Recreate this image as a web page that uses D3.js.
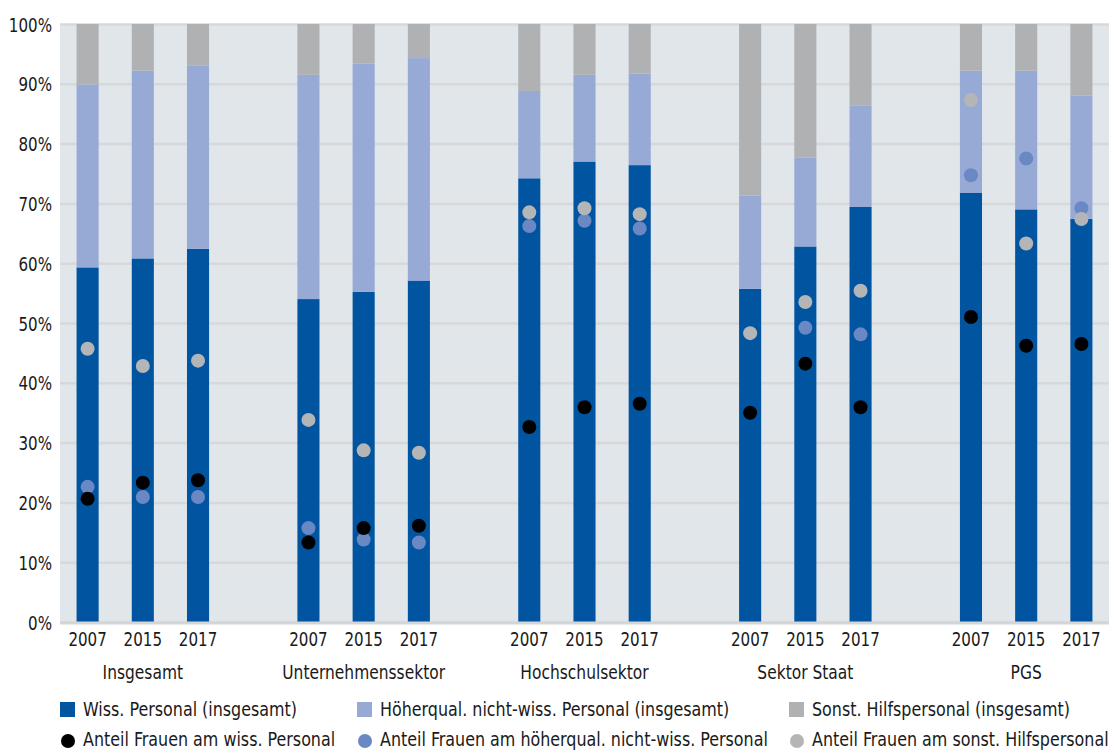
<!DOCTYPE html>
<html>
<head>
<meta charset="utf-8">
<script src="https://cdn.jsdelivr.net/npm/d3@7"></script>
<style>
  body { margin: 0; background: #fff; }
  text { font-family: "Liberation Sans Narrow", "DejaVu Sans Condensed", sans-serif; fill: #1a1a1a; }
</style>
</head>
<body>
<div id="chart"></div>
<script>
const groups = ['Insgesamt', 'Unternehmenssektor', 'Hochschulsektor', 'Sektor Staat', 'PGS'];
const years = ['2007', '2015', '2017'];
const yTicks = [0, 10, 20, 30, 40, 50, 60, 70, 80, 90, 100];

// stacked bars, per group then year (in %)
const wissPersonal   = [59.3, 60.8, 62.4,  54.0, 55.2, 57.1,  74.2, 77.0, 76.4,  55.7, 62.8, 69.4,  71.8, 69.0, 67.4];
const hoeherPersonal = [30.6, 31.4, 30.7,  37.5, 38.2, 37.2,  14.6, 14.5, 15.3,  15.6, 14.9, 17.0,  20.4, 23.2, 20.6];
const sonstPersonal  = [10.1,  7.8,  6.9,   8.5,  6.6,  5.7,  11.2,  8.5,  8.3,  28.7, 22.3, 13.6,   7.8,  7.8, 12.0];

// share of women (dots)
const frauenWiss   = [20.6, 23.3, 23.7,  13.3, 15.7, 16.1,  32.6, 35.9, 36.5,  35.0, 43.2, 35.9,  51.0, 46.2, 46.5];
const frauenHoeher = [22.6, 20.9, 20.9,  15.7, 13.8, 13.3,  66.2, 67.1, 65.8,  null, 49.2, 48.1,  74.7, 77.5, 69.2];
const frauenSonst  = [45.7, 42.8, 43.7,  33.8, 28.7, 28.3,  68.5, 69.2, 68.2,  48.3, 53.5, 55.4,  87.3, 63.3, 67.4];

const legendBars = ['Wiss. Personal (insgesamt)', 'Höherqual. nicht-wiss. Personal (insgesamt)', 'Sonst. Hilfspersonal (insgesamt)'];
const legendDots = ['Anteil Frauen am wiss. Personal', 'Anteil Frauen am höherqual. nicht-wiss. Personal', 'Anteil Frauen am sonst. Hilfspersonal'];

const barColors = ['#0054a0', '#97aad6', '#b0b1b3'];
const dotColors = ['#000000', '#6a88c4', '#b4b5b6'];

const width = 1109;
const height = 750;
const margin = { top: 24, right: 0, bottom: 128, left: 60 };
const chartWidth = width - margin.left - margin.right;
const chartHeight = height - margin.top - margin.bottom;

const rows = [];
groups.forEach((g, gi) => {
  years.forEach((y, yi) => {
    const i = gi * years.length + yi;
    rows.push({
      group: g, year: y,
      wiss: wissPersonal[i], hoeher: hoeherPersonal[i], sonst: sonstPersonal[i],
      fWiss: frauenWiss[i], fHoeher: frauenHoeher[i], fSonst: frauenSonst[i]
    });
  });
});

// place text at (x, y) and narrow it horizontally around that point (condensed typeface look)
function placeText(sel, fx, fy, squeeze) {
  sel.attr('x', 0).attr('y', 0)
    .attr('transform', (d, i) => `translate(${fx(d, i)},${fy(d, i)}) scale(${squeeze},1)`);
}

const svg = d3.select('#chart')
  .append('svg')
  .attr('width', width)
  .attr('height', height);

const chart = svg.append('g')
  .attr('transform', `translate(${margin.left},${margin.top})`);

const x0 = d3.scaleBand()
  .domain(groups)
  .range([0, chartWidth])
  .paddingInner(0.25)
  .paddingOuter(0);
const x1 = d3.scaleBand()
  .domain(years)
  .range([0, x0.bandwidth()])
  .paddingInner(0.6)
  .paddingOuter(0.3);
const yScale = d3.scaleLinear()
  .domain([0, 100])
  .range([chartHeight, 0]);

chart.append('rect')
  .attr('x', 0)
  .attr('y', 0)
  .attr('width', chartWidth)
  .attr('height', chartHeight)
  .attr('fill', '#e1e6eb');

// gridlines
const yGridlines = d3.axisLeft()
  .scale(yScale)
  .tickValues(yTicks)
  .tickSize(-chartWidth)
  .tickFormat('');
chart.append('g')
  .classed('gridline', true)
  .call(yGridlines)
  .call(g => g.select('.domain').remove())
  .call(g => g.selectAll('line').attr('stroke', '#d6d8da').attr('stroke-width', 2.5));

// y labels
const yAxis = d3.axisLeft()
  .scale(yScale)
  .tickValues(yTicks)
  .tickSize(0)
  .tickPadding(8)
  .tickFormat(d => d + '%');
chart.append('g')
  .classed('y axis', true)
  .call(yAxis)
  .call(g => g.select('.domain').remove())
  .call(g => g.selectAll('text')
    .style('font-size', '20px')
    .attr('dy', '0.35em')
    .attr('x', 0)
    .attr('transform', 'translate(-8,0) scale(0.84,1)'));

// stacked bars
const stack = d3.stack().keys(['wiss', 'hoeher', 'sonst']);
const series = stack(rows);

chart.selectAll('.layer')
  .data(series)
  .enter()
  .append('g')
  .classed('layer', true)
  .attr('fill', (d, i) => barColors[i])
  .selectAll('rect')
  .data(d => d)
  .enter()
  .append('rect')
  .attr('x', d => x0(d.data.group) + x1(d.data.year))
  .attr('y', d => yScale(d[1]))
  .attr('width', x1.bandwidth())
  .attr('height', d => yScale(d[0]) - yScale(d[1]));

// dots
const dotKeys = ['fHoeher', 'fSonst', 'fWiss'];
const dotKeyColor = { fWiss: dotColors[0], fHoeher: dotColors[1], fSonst: dotColors[2] };
dotKeys.forEach(k => {
  chart.selectAll('.dot-' + k)
    .data(rows.filter(d => d[k] != null))
    .enter()
    .append('circle')
    .classed('dot-' + k, true)
    .attr('cx', d => x0(d.group) + x1(d.year) + x1.bandwidth() / 2)
    .attr('cy', d => yScale(d[k]))
    .attr('r', 7)
    .attr('fill', dotKeyColor[k]);
});

// x-axis baseline
chart.append('line')
  .attr('x1', 0)
  .attr('x2', chartWidth)
  .attr('y1', yScale(0) + 1)
  .attr('y2', yScale(0) + 1)
  .attr('stroke', '#d3d5d7')
  .attr('stroke-width', 3);

// year labels
chart.selectAll('.year-label')
  .data(rows)
  .enter()
  .append('text')
  .classed('year-label', true)
  .style('font-size', '20px')
  .style('text-anchor', 'middle')
  .text(d => d.year)
  .call(placeText, d => x0(d.group) + x1(d.year) + x1.bandwidth() / 2, () => chartHeight + 24, 0.84);

// group labels
chart.selectAll('.group-label')
  .data(groups)
  .enter()
  .append('text')
  .classed('group-label', true)
  .style('font-size', '20px')
  .style('text-anchor', 'middle')
  .text(d => d)
  .call(placeText, d => x0(d) + x0.bandwidth() / 2, () => chartHeight + 57, 0.86);

// legend
const legendX = [60, 357, 789];
const legend = svg.append('g').classed('legend', true);

legend.selectAll('.leg-bar')
  .data(legendBars)
  .enter()
  .append('g')
  .classed('leg-bar', true)
  .attr('transform', (d, i) => `translate(${legendX[i]},701)`)
  .each(function (d, i) {
    const g = d3.select(this);
    g.append('rect').attr('x', 0).attr('y', 1).attr('width', 15).attr('height', 15).attr('fill', barColors[i]);
    g.append('text').style('font-size', '20px').text(d).call(placeText, () => 23, () => 15, 0.885);
  });

legend.selectAll('.leg-dot')
  .data(legendDots)
  .enter()
  .append('g')
  .classed('leg-dot', true)
  .attr('transform', (d, i) => `translate(${legendX[i]},731)`)
  .each(function (d, i) {
    const g = d3.select(this);
    g.append('circle').attr('cx', 8).attr('cy', 10).attr('r', 7).attr('fill', dotColors[i]);
    g.append('text').style('font-size', '20px').text(d).call(placeText, () => 23, () => 14.5, 0.885);
  });
</script>
</body>
</html>
